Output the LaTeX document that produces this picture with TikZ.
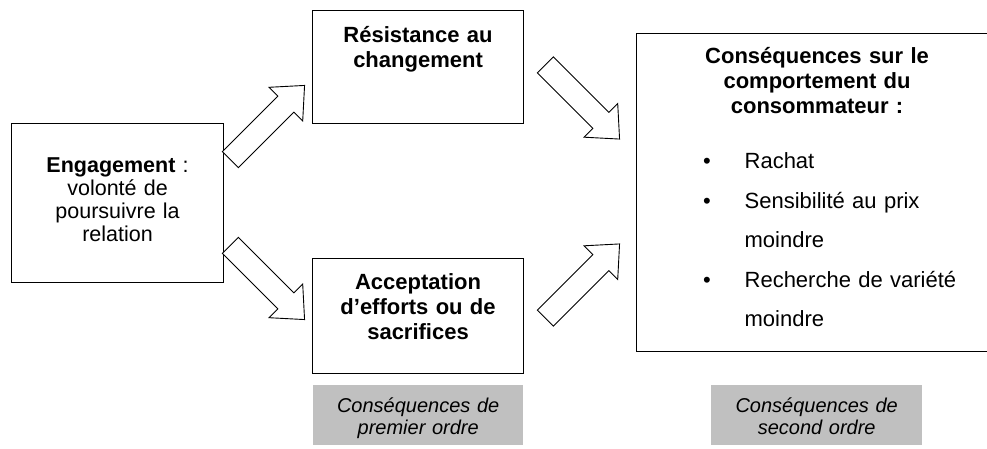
\documentclass[tikz,border=0pt]{standalone}
\usepackage{fontspec}
\setmainfont{Liberation Sans}
\usetikzlibrary{shapes.arrows}

\definecolor{labelgray}{HTML}{C0C0C0}

\begin{document}
\begin{tikzpicture}[x=1pt, y=1pt,
        box/.style={draw, line width=1.1pt, inner sep=0pt, align=center, font=\fontsize{22}{25}\selectfont},
        fatarrow/.style={single arrow, draw, line width=0.9pt, fill=white, inner xsep=0pt, inner ysep=10.9pt,
            minimum height=105pt, single arrow head extend=12.45pt,
            single arrow tip angle=84},
        order/.style={fill=labelgray, inner sep=0pt, align=center, font=\fontsize{20}{22}\selectfont\itshape}]

        \useasboundingbox (0,0) rectangle (987,-449);

        % boxes
        \node[box, anchor=north west, text width=212pt, text height=48.5pt, text depth=110.5pt,
            font=\fontsize{21.5}{23}\selectfont] (engage) at (11,-123)
            {\textbf{Engagement} :\\volonté de\\poursuivre la\\relation};
        \node[box, anchor=north west, text width=211pt, text height=32.3pt, text depth=80.7pt] (resist) at (312,-10)
            {\textbf{Résistance au}\\\textbf{changement}};
        \node[box, anchor=north west, text width=211pt, text height=31pt, text depth=84pt] (accept) at (312,-258)
            {\textbf{Acceptation}\\\textbf{d’efforts ou de}\\\textbf{sacrifices}};
        \node[box, anchor=north west, text width=361pt, text height=30.6pt, text depth=287.7pt] (conseq) at (636,-32.7)
            {\textbf{Conséquences sur le}\\\textbf{comportement du}\\\textbf{consommateur :}};

        % list of consequences
        \node[anchor=base west, inner sep=0pt, text width=270pt, align=left,
            font=\fontsize{22}{39.4}\selectfont] (conseqlist) at (702.85,-169)
            {\makebox[41.6pt][l]{•}Rachat\\
             \makebox[41.6pt][l]{•}Sensibilité au prix\\
             \hspace*{41.6pt}moindre\\
             \makebox[41.6pt][l]{•}Recherche de variété\\
             \hspace*{41.6pt}moindre};

        % arrows
        \node[fatarrow, rotate=45, anchor=tail] (arrA) at (230,-160) {};
        \node[fatarrow, rotate=-45, anchor=tail] (arrB) at (230,-245) {};
        \node[fatarrow, rotate=-45, anchor=tail] (arrC) at (545,-64.5) {};
        \node[fatarrow, rotate=45, anchor=tail] (arrD) at (545,-318.5) {};

        % order labels
        \node[order, anchor=north west, text width=210pt, text height=27pt, text depth=33pt] (first) at (313,-385)
            {Conséquences de\\premier ordre};
        \node[order, anchor=north west, text width=211pt, text height=27.5pt, text depth=32.5pt] (second) at (711,-385)
            {Conséquences de\\second ordre};
    \end{tikzpicture}
\end{document}
